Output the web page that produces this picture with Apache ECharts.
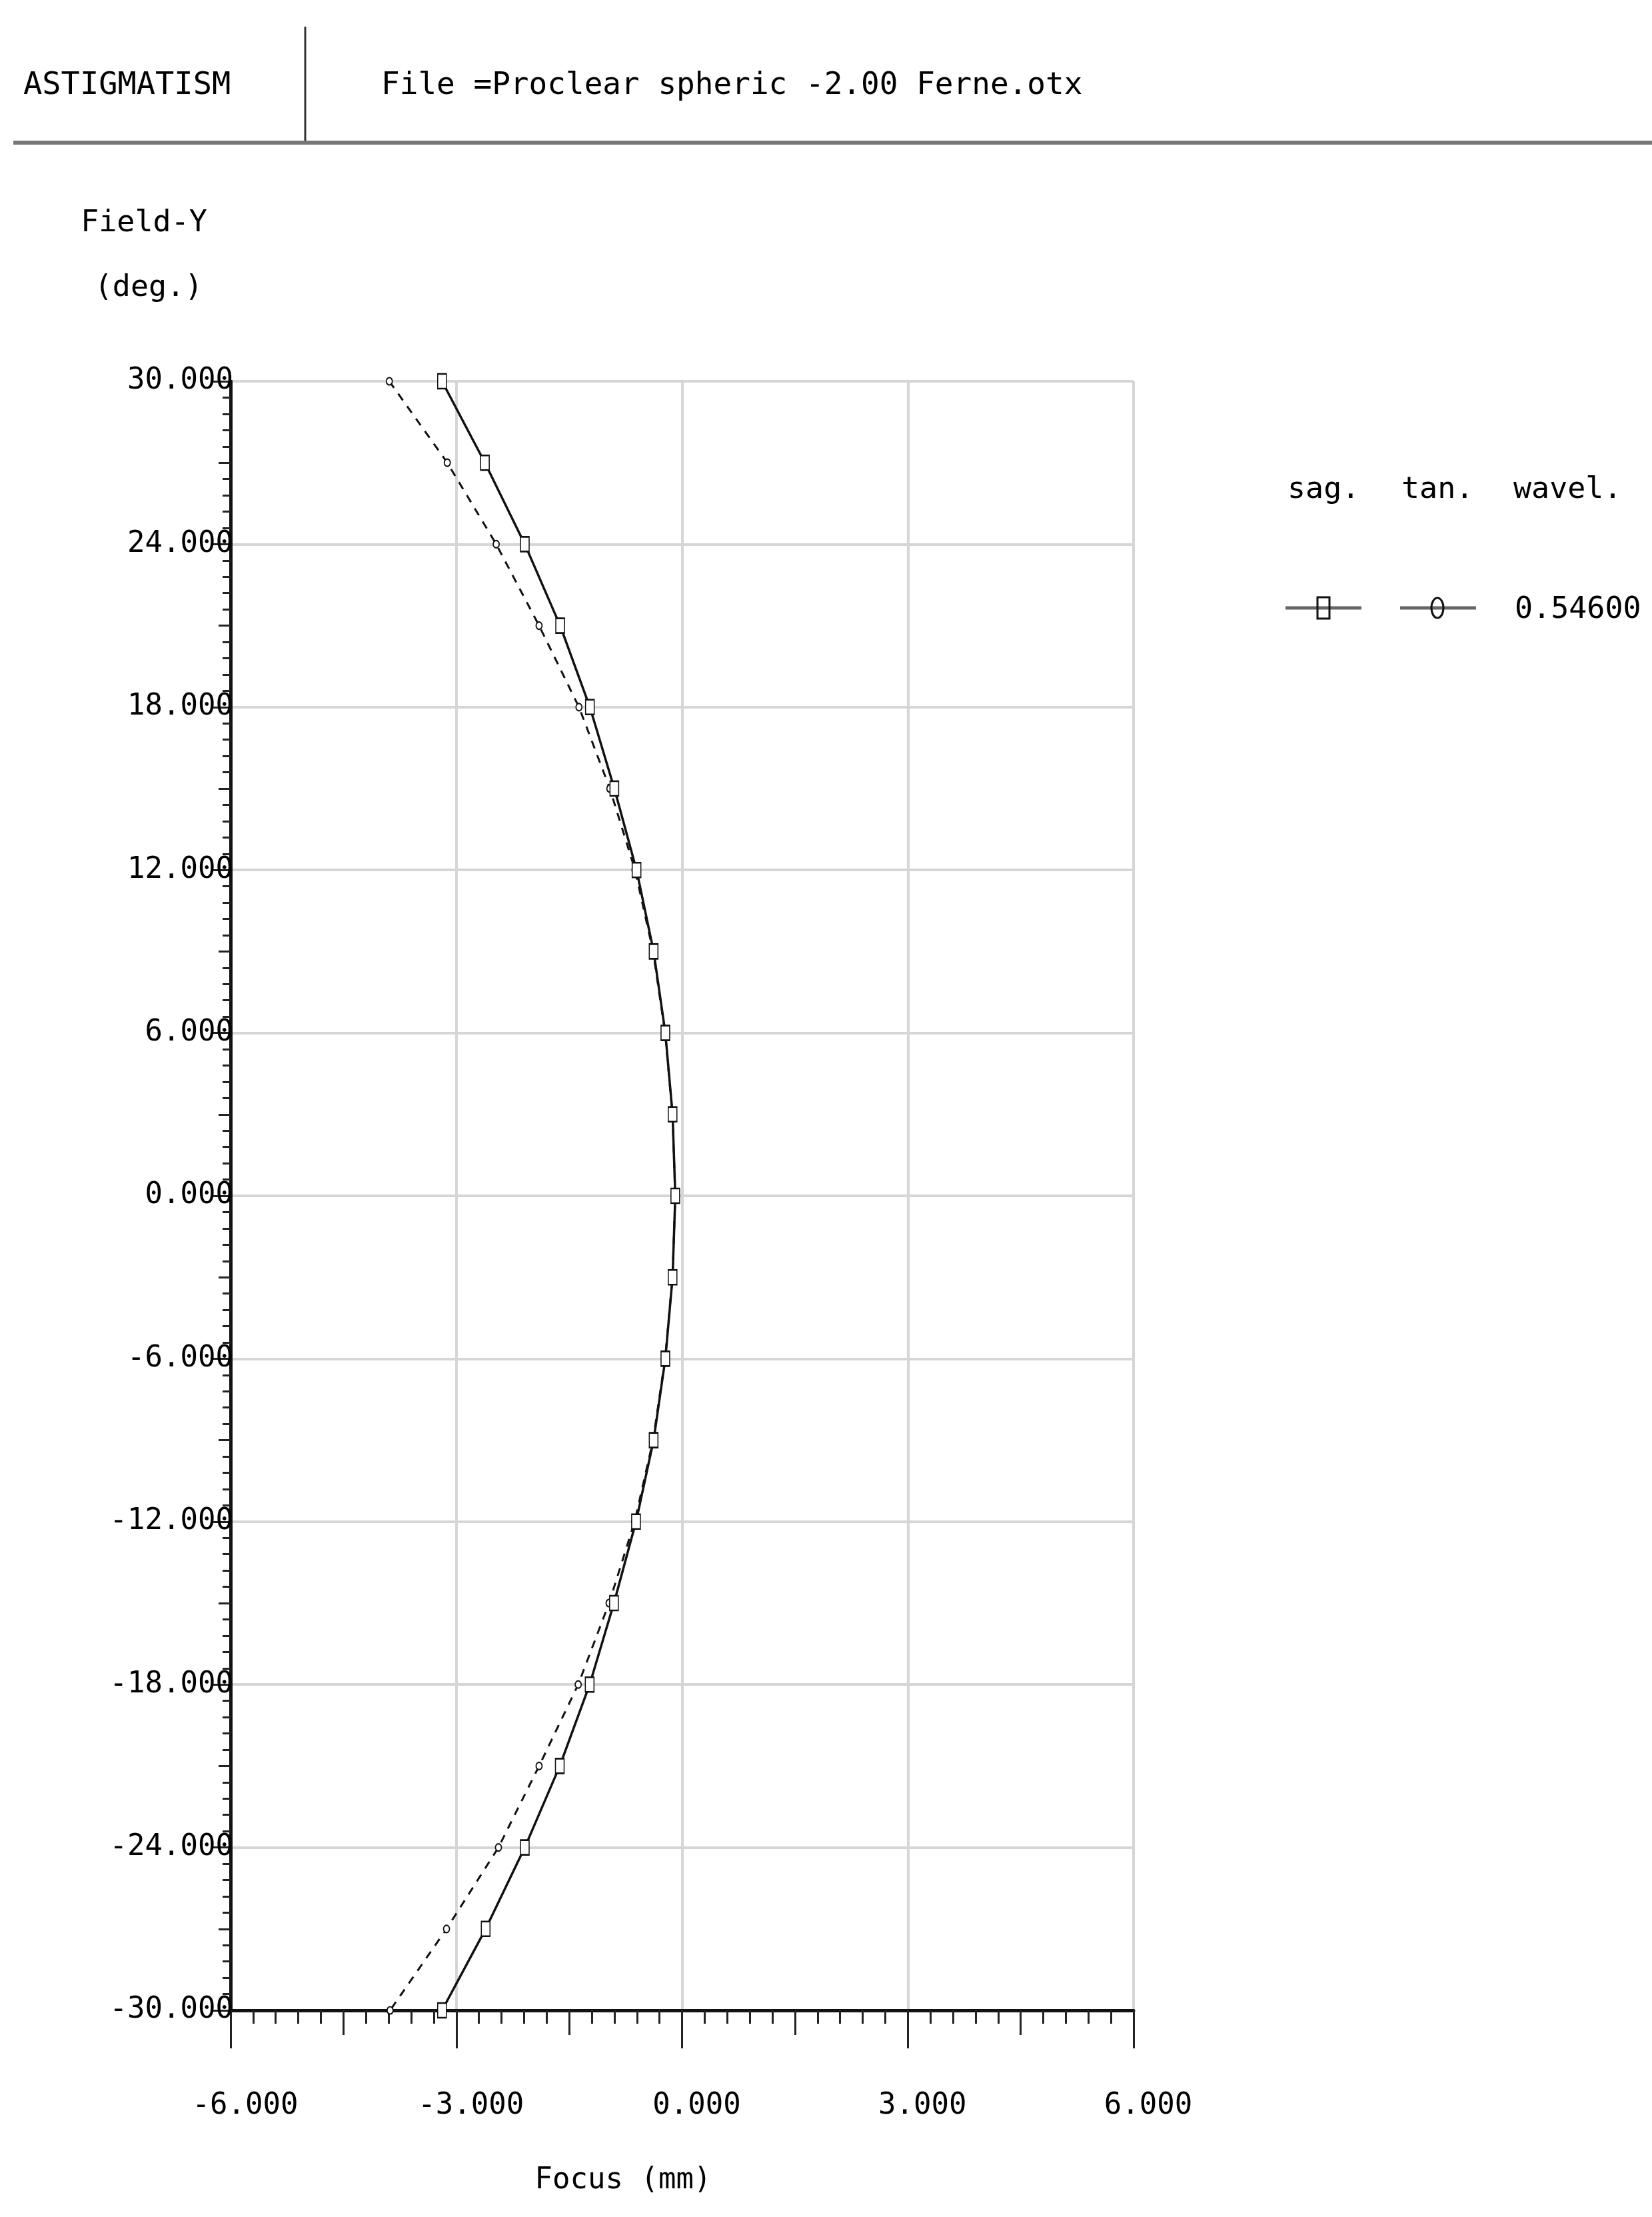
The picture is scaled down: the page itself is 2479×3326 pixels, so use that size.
<!DOCTYPE html>
<html>
<head>
<meta charset="utf-8">
<script src="https://cdn.jsdelivr.net/npm/echarts@6/dist/echarts.min.js"></script>
<style>
html,body{margin:0;padding:0;background:#fff;}
#chart{width:2479px;height:3326px;}
</style>
</head>
<body>
<div id="chart"></div>
<script>
// ---- data ----
const fieldDeg = [30, 27, 24, 21, 18, 15, 12, 9, 6, 3, 0, -3, -6, -9, -12, -15, -18, -21, -24, -27, -30];
const sagFocus = [-3.19, -2.62, -2.09, -1.62, -1.225, -0.90, -0.605, -0.378, -0.222, -0.126, -0.09,
                  -0.126, -0.222, -0.378, -0.612, -0.905, -1.228, -1.625, -2.09, -2.61, -3.19];
const tanFocus = [-3.89, -3.12, -2.47, -1.90, -1.37, -0.96, -0.625, -0.385, -0.225, -0.127, -0.09,
                  -0.127, -0.225, -0.385, -0.63, -0.97, -1.38, -1.90, -2.44, -3.13, -3.88];
const xRange = [-6, 6];
const yRange = [-30, 30];
const titleText = 'ASTIGMATISM';
const fileText = 'File =Proclear spheric -2.00 Ferne.otx';
const legendHeaders = ['sag.', 'tan.', 'wavel.'];
const wavelengthLabel = '0.54600';

const FONT = '"DejaVu Sans Mono", "Liberation Mono", monospace';
const sagPts = fieldDeg.map((d, i) => [sagFocus[i], d]);
const tanPts = fieldDeg.map((d, i) => [tanFocus[i], d]);

function txt(text, x, y, size, align) {
  return {
    type: 'text', x: x, y: y, z: 10,
    style: {
      text: text, font: size + 'px ' + FONT, fill: '#000',
      align: align || 'left', textAlign: align || 'left',
      verticalAlign: 'middle', textVerticalAlign: 'middle'
    }
  };
}
function ln(x1, y1, x2, y2, w, c) {
  return { type: 'line', z: 10, shape: { x1: x1, y1: y1, x2: x2, y2: y2 }, style: { stroke: c, lineWidth: w } };
}

const chart = echarts.init(document.getElementById('chart'), null, { renderer: 'canvas' });
chart.setOption({
  animation: false,
  backgroundColor: '#fff',
  grid: { left: 346, top: 572, width: 1355, height: 2444, containLabel: false },
  xAxis: [
    {
      type: 'value', min: xRange[0], max: xRange[1], interval: 3, position: 'bottom',
      axisLine: { show: true, onZero: false, lineStyle: { color: '#111', width: 5 } },
      axisTick: { show: true, length: 57, lineStyle: { color: '#222', width: 3 } },
      minorTick: { show: true, splitNumber: 10, length: 20, lineStyle: { color: '#222', width: 3 } },
      splitLine: { show: true, lineStyle: { color: '#d6d6d6', width: 4 } },
      axisLabel: {
        show: true, margin: 122, padding: [0, 0, 0, 44],
        fontFamily: FONT, fontSize: 44, color: '#000',
        formatter: v => v.toFixed(3)
      }
    },
    {
      type: 'value', min: xRange[0], max: xRange[1], interval: 1.5, position: 'bottom',
      axisLine: { show: false, onZero: false },
      axisTick: { show: true, length: 37, lineStyle: { color: '#222', width: 3 } },
      splitLine: { show: false }, axisLabel: { show: false }
    }
  ],
  yAxis: [
    {
      type: 'value', min: yRange[0], max: yRange[1], interval: 6, position: 'left',
      axisLine: { show: true, onZero: false, lineStyle: { color: '#111', width: 5 } },
      axisTick: { show: true, length: 28, lineStyle: { color: '#222', width: 3 } },
      minorTick: { show: true, splitNumber: 10, length: 12, lineStyle: { color: '#222', width: 3 } },
      splitLine: { show: true, lineStyle: { color: '#d6d6d6', width: 4 } },
      axisLabel: {
        show: true, margin: -4,
        fontFamily: FONT, fontSize: 44, color: '#000',
        formatter: v => v.toFixed(3)
      }
    },
    {
      type: 'value', min: yRange[0], max: yRange[1], interval: 3, position: 'left',
      axisLine: { show: false, onZero: false },
      axisTick: { show: true, length: 18, lineStyle: { color: '#222', width: 3 } },
      splitLine: { show: false }, axisLabel: { show: false }
    }
  ],
  series: [
    {
      name: 'tan.', type: 'line', xAxisIndex: 0, yAxisIndex: 0, data: tanPts,
      lineStyle: { color: '#111', width: 3, type: [12, 11] },
      symbol: 'emptyCircle', symbolSize: [9, 11],
      itemStyle: { color: '#111', borderColor: '#111', borderWidth: 2 },
      z: 3
    },
    {
      name: 'sag.', type: 'line', xAxisIndex: 0, yAxisIndex: 0, data: sagPts,
      lineStyle: { color: '#111', width: 3.5 },
      symbol: 'emptyRect', symbolSize: [13, 22],
      itemStyle: { color: '#111', borderColor: '#111', borderWidth: 3 },
      z: 4
    }
  ],
  graphic: [
    // header
    txt(titleText, 35, 129, 47, 'left'),
    txt(fileText, 572, 129, 46, 'left'),
    ln(458, 40, 458, 214, 3, '#333'),
    ln(20, 214, 2479, 214, 6, '#777'),
    // y-axis name
    txt('Field-Y', 216, 335, 45, 'center'),
    txt('(deg.)', 223, 432, 45, 'center'),
    // x-axis name
    txt('Focus (mm)', 935, 3272, 44, 'center'),
    // legend
    txt(legendHeaders[0], 1932, 735, 45, 'left'),
    txt(legendHeaders[1], 2103, 735, 45, 'left'),
    txt(legendHeaders[2], 2271, 735, 45, 'left'),
    ln(1929, 912, 2043, 912, 5, '#666'),
    { type: 'rect', z: 11, shape: { x: 1977, y: 896, width: 18, height: 32 }, style: { fill: 'none', stroke: '#111', lineWidth: 3 } },
    ln(2101, 912, 2215, 912, 5, '#666'),
    { type: 'ellipse', z: 11, shape: { cx: 2157, cy: 912, rx: 9, ry: 15 }, style: { fill: 'none', stroke: '#111', lineWidth: 3 } },
    txt(wavelengthLabel, 2273, 915, 45, 'left')
  ]
});
</script>
</body>
</html>
